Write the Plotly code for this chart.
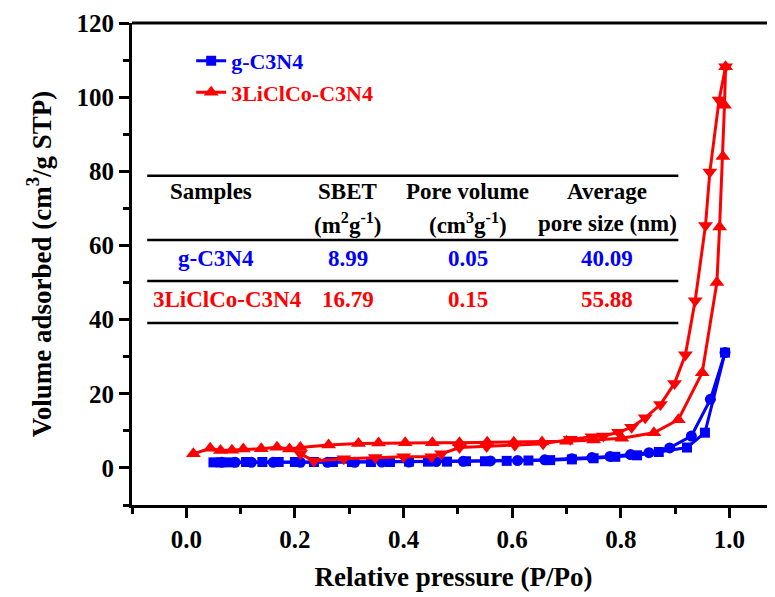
import plotly.graph_objects as go

# ---------------- data ----------------
# g-C3N4 adsorption branch (squares)
g_ads_p = [0.05, 0.063, 0.08, 0.11, 0.14, 0.17, 0.20, 0.235, 0.27, 0.305, 0.34, 0.375,
           0.41, 0.445, 0.48, 0.515, 0.55, 0.59, 0.63, 0.67, 0.71, 0.75, 0.79, 0.83,
           0.87, 0.922, 0.955, 0.992]
g_ads_v = [1.5, 1.5, 1.5, 1.6, 1.6, 1.6, 1.6, 1.6, 1.6, 1.6, 1.6, 1.6,
           1.7, 1.7, 1.7, 1.8, 1.8, 1.9, 2.0, 2.1, 2.3, 2.6, 3.0, 3.4,
           4.3, 5.5, 9.5, 31.1]
# g-C3N4 desorption branch (circles)
g_des_p = [0.992, 0.965, 0.93, 0.89, 0.852, 0.818, 0.78, 0.747, 0.71, 0.66, 0.61, 0.56,
           0.51, 0.46, 0.41, 0.36, 0.31, 0.26, 0.21, 0.16, 0.12, 0.09, 0.065]
g_des_v = [31.1, 18.5, 8.6, 5.4, 4.1, 3.6, 3.1, 2.8, 2.5, 2.2, 2.0, 1.9,
           1.8, 1.7, 1.6, 1.6, 1.5, 1.5, 1.5, 1.5, 1.5, 1.5, 1.5]
# 3LiClCo-C3N4 adsorption branch (up triangles)
r_ads_p = [0.013, 0.044, 0.063, 0.084, 0.105, 0.138, 0.167, 0.19, 0.21, 0.262, 0.317,
           0.354, 0.403, 0.453, 0.503, 0.554, 0.603, 0.655, 0.70, 0.75, 0.802, 0.861,
           0.906, 0.95, 0.977, 0.982, 0.988, 0.991, 0.993]
r_ads_v = [3.8, 5.3, 4.7, 4.8, 5.1, 5.2, 5.6, 5.1, 5.5, 6.2, 6.6,
           6.7, 6.8, 6.8, 6.8, 6.9, 6.9, 7.0, 7.2, 7.5, 8.0, 9.5,
           13.0, 25.7, 50.0, 65.0, 84.0, 97.8, 108.2]
# 3LiClCo-C3N4 desorption branch (down triangles)
r_des_p = [0.993, 0.981, 0.964, 0.956, 0.937, 0.919, 0.899, 0.873, 0.845, 0.82, 0.796,
           0.768, 0.747, 0.707, 0.657, 0.605, 0.553, 0.503, 0.47, 0.452, 0.40, 0.348,
           0.29, 0.235, 0.21]
r_des_v = [108.2, 99.2, 79.8, 65.4, 45.1, 30.5, 22.8, 17.1, 13.5, 11.0, 9.6,
           8.6, 8.4, 7.7, 6.5, 6.1, 5.8, 5.5, 3.8, 3.0, 3.0, 2.8,
           2.5, 1.9, 3.8]

x_ticks = [0.0, 0.2, 0.4, 0.6, 0.8, 1.0]
y_ticks = [0, 20, 40, 60, 80, 100, 120]

# table content
table_header1 = ["Samples", "SBET", "Pore volume", "Average"]
table_header2 = ["", "(m<sup>2</sup>g<sup>-1</sup>)", "(cm<sup>3</sup>g<sup>-1</sup>)", "pore size (nm)"]
table_row_g = ["g-C3N4", "8.99", "0.05", "40.09"]
table_row_r = ["3LiClCo-C3N4", "16.79", "0.15", "55.88"]

BLUE = "#0000FF"
RED = "#FF0000"
FONT = "Liberation Serif"

fig = go.Figure()

fig.add_trace(go.Scatter(x=g_des_p, y=g_des_v, mode="lines+markers", showlegend=False,
                         line=dict(color=BLUE, width=3),
                         marker=dict(symbol="circle", size=11, color=BLUE)))
fig.add_trace(go.Scatter(x=g_ads_p, y=g_ads_v, mode="lines+markers",
                         name="<b><span style='color:#0000FF'>g-C3N4</span></b>",
                         legendgroup="a",
                         line=dict(color=BLUE, width=3),
                         marker=dict(symbol="square", size=10, color=BLUE)))
fig.add_trace(go.Scatter(x=r_des_p, y=r_des_v, mode="lines+markers", showlegend=False,
                         line=dict(color=RED, width=3),
                         marker=dict(symbol="triangle-down", size=13, color=RED)))
fig.add_trace(go.Scatter(x=r_ads_p, y=r_ads_v, mode="lines+markers",
                         name="<b><span style='color:#FF0000'>3LiClCo-C3N4</span></b>",
                         legendgroup="b",
                         line=dict(color=RED, width=3),
                         marker=dict(symbol="triangle-up", size=13, color=RED)))

# ---------------- table (annotations + rules) ----------------
col_x = [0.045, 0.297, 0.518, 0.775]
tfont = dict(family=FONT, size=23, color="black")
for i, t in enumerate(table_header1):
    fig.add_annotation(x=col_x[i], y=74.5, text="<b>%s</b>" % t, showarrow=False,
                       xref="x", yref="y", font=tfont)
for i, t in enumerate(table_header2):
    if t:
        fig.add_annotation(x=col_x[i], y=65.8, text="<b>%s</b>" % t, showarrow=False,
                           xref="x", yref="y", font=tfont)
for i, t in enumerate(table_row_g):
    fig.add_annotation(x=col_x[i] + (0.01 if i == 0 else 0), y=56.6, text="<b>%s</b>" % t,
                       showarrow=False, xref="x", yref="y",
                       font=dict(family=FONT, size=23, color=BLUE))
for i, t in enumerate(table_row_r):
    fig.add_annotation(x=col_x[i] + (0.03 if i == 0 else 0), y=45.3, text="<b>%s</b>" % t,
                       showarrow=False, xref="x", yref="y",
                       font=dict(family=FONT, size=23, color=RED))
for yy in [78.8, 61.5, 50.4, 39.1]:
    fig.add_shape(type="line", xref="x", yref="y", x0=-0.072, x1=0.906, y0=yy, y1=yy,
                  line=dict(color="black", width=2.5))

# top frame line (right side of the frame is cropped in the reference)
fig.add_shape(type="line", xref="paper", yref="paper", x0=0, x1=1, y0=1, y1=1,
              line=dict(color="black", width=3))

fig.update_layout(
    width=767, height=589,
    margin=dict(l=124, r=0, t=15, b=92),
    paper_bgcolor="white", plot_bgcolor="white",
    font=dict(family=FONT, color="black"),
    showlegend=True,
    legend=dict(x=0.092, y=0.965, xanchor="left", yanchor="top",
                bgcolor="rgba(0,0,0,0)", borderwidth=0, tracegroupgap=0,
                font=dict(family=FONT, size=22)),
    xaxis=dict(range=[-0.1, 1.084], tickvals=x_ticks, tickformat=".1f",
               showgrid=False, zeroline=False, showline=True, linecolor="black", linewidth=3,
               ticks="outside", ticklen=10, tickwidth=3, tickcolor="black",
               minor=dict(dtick=0.1, tick0=0, ticks="outside", ticklen=6, tickwidth=2.5,
                          tickcolor="black", showgrid=False),
               tickfont=dict(family=FONT, size=25, color="black", weight="bold"),
               title=dict(text="<b>Relative pressure (P/Po)</b>", standoff=16,
                          font=dict(family=FONT, size=27, color="black"))),
    yaxis=dict(range=[-10, 120], tickvals=y_ticks,
               showgrid=False, zeroline=False, showline=True, linecolor="black", linewidth=3,
               ticks="outside", ticklen=10, tickwidth=3, tickcolor="black",
               minor=dict(dtick=10, tick0=0, ticks="outside", ticklen=6, tickwidth=2.5,
                          tickcolor="black", showgrid=False),
               tickfont=dict(family=FONT, size=25, color="black", weight="bold"),
               title=dict(text="<b>Volume adsorbed (cm<sup>3</sup>/g STP)</b>", standoff=18,
                          font=dict(family=FONT, size=27, color="black"))),
)

fig.write_html("out.html")
